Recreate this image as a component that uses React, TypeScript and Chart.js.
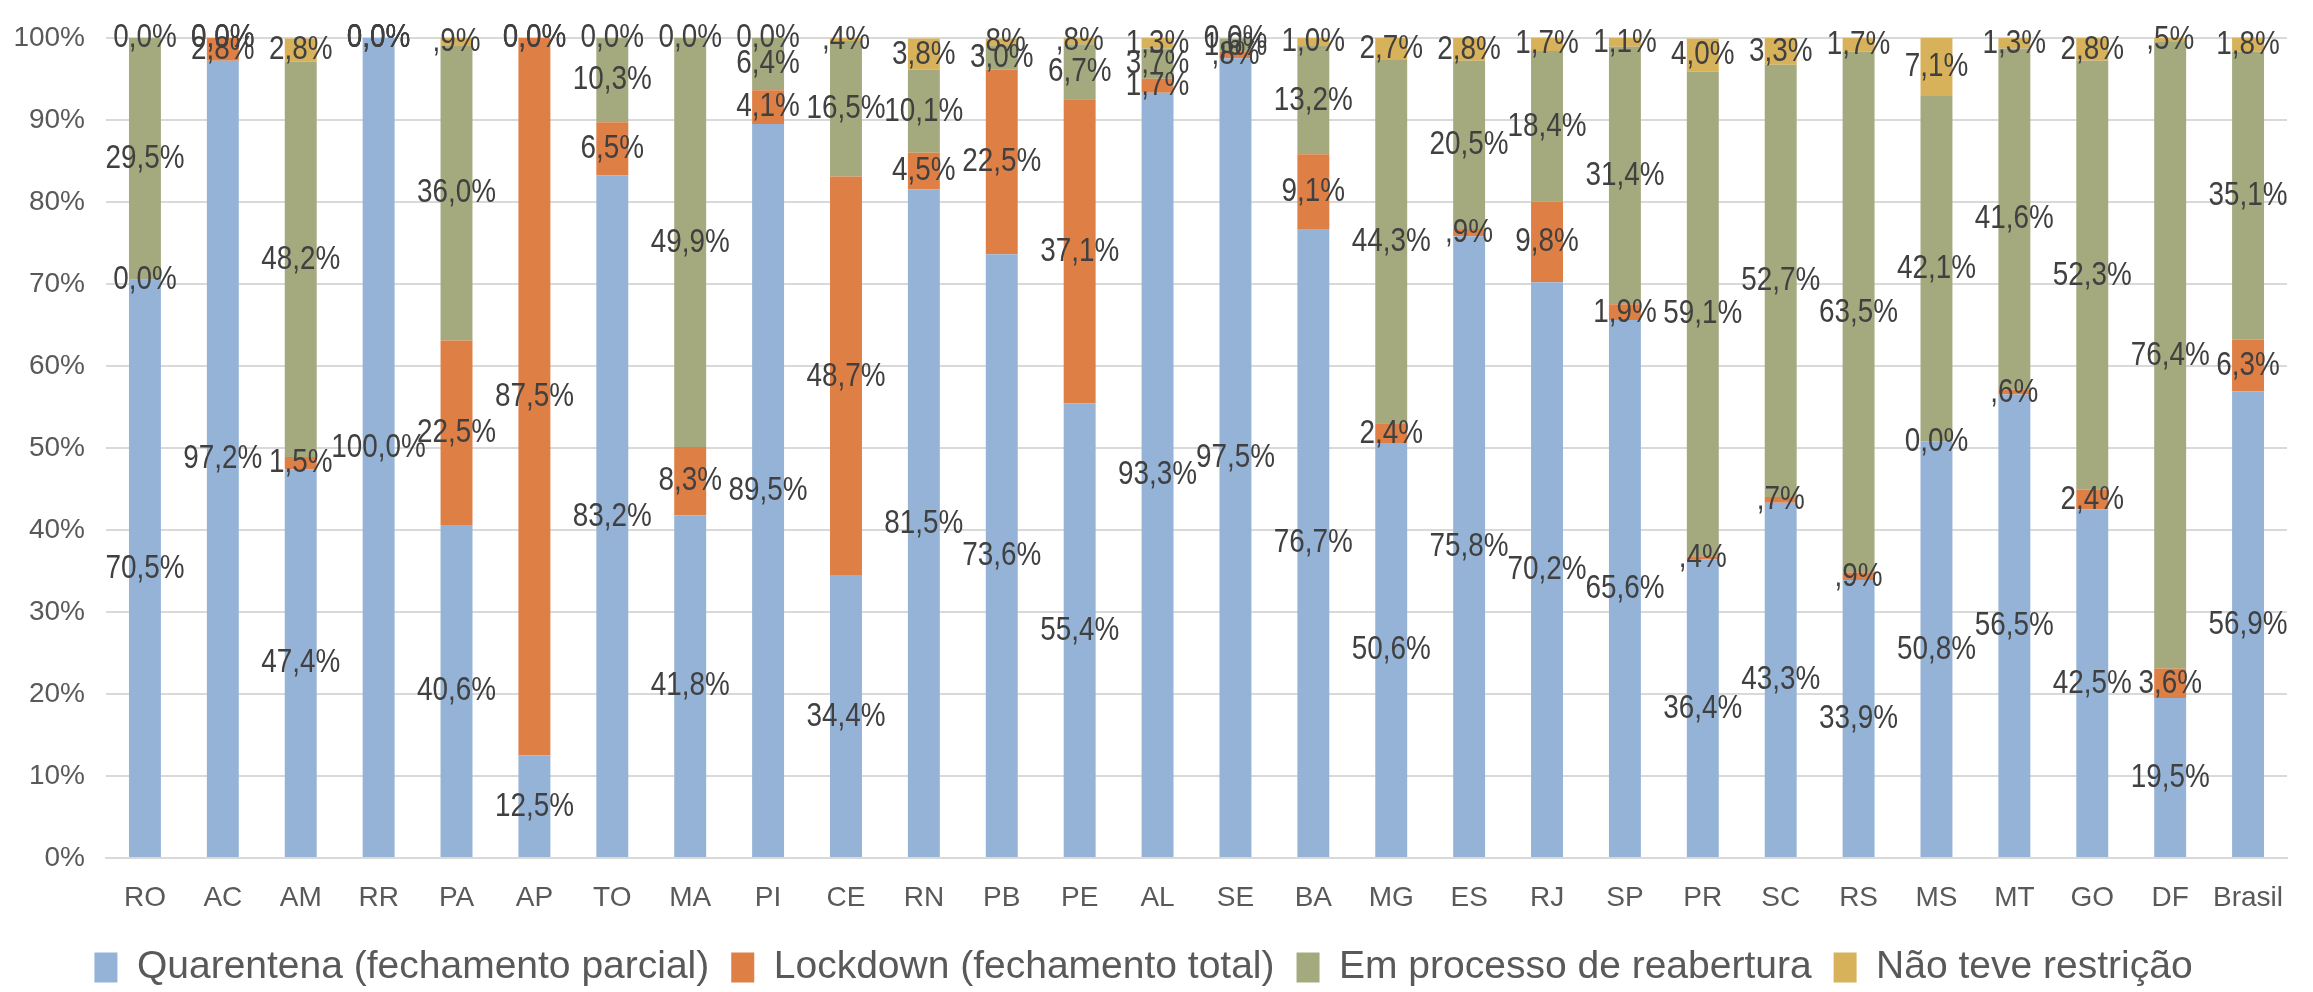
import React, { useEffect, useRef } from 'react';
import { Chart, registerables } from 'chart.js';

Chart.register(...registerables);

const categories = ['RO', 'AC', 'AM', 'RR', 'PA', 'AP', 'TO', 'MA', 'PI', 'CE', 'RN', 'PB', 'PE', 'AL', 'SE', 'BA', 'MG', 'ES', 'RJ', 'SP', 'PR', 'SC', 'RS', 'MS', 'MT', 'GO', 'DF', 'Brasil'];

const quarentena = [70.5, 97.2, 47.4, 100.0, 40.6, 12.5, 83.2, 41.8, 89.5, 34.4, 81.5, 73.6, 55.4, 93.3, 97.5, 76.7, 50.6, 75.8, 70.2, 65.6, 36.4, 43.3, 33.9, 50.8, 56.5, 42.5, 19.5, 56.9];
const lockdown = [0.0, 2.8, 1.5, 0.0, 22.5, 87.5, 6.5, 8.3, 4.1, 48.7, 4.5, 22.5, 37.1, 1.7, 0.8, 9.1, 2.4, 0.9, 9.8, 1.9, 0.4, 0.7, 0.9, 0.0, 0.6, 2.4, 3.6, 6.3];
const reabertura = [29.5, 0.0, 48.2, 0.0, 36.0, 0.0, 10.3, 49.9, 6.4, 16.5, 10.1, 3.0, 6.7, 3.7, 1.6, 13.2, 44.3, 20.5, 18.4, 31.4, 59.1, 52.7, 63.5, 42.1, 41.6, 52.3, 76.4, 35.1];
const semRestricao = [0.0, 0.0, 2.8, 0.0, 0.9, 0.0, 0.0, 0.0, 0.0, 0.4, 3.8, 0.8, 0.8, 1.3, 0.0, 1.0, 2.7, 2.8, 1.7, 1.1, 4.0, 3.3, 1.7, 7.1, 1.3, 2.8, 0.5, 1.8];

const seriesNames = ['Quarentena (fechamento parcial)', 'Lockdown (fechamento total)', 'Em processo de reabertura', 'Não teve restrição'];
const seriesColors = ['#95B3D6', '#DE7F45', '#A4AA7E', '#D8B15B'];
const seriesValues = [quarentena, lockdown, reabertura, semRestricao];

const FONT = '"Liberation Sans", Arial, sans-serif';

const fmt = (v: number): string => {
  if (v === 0) return '0,0%';
  if (v < 1) return ',' + Math.round(v * 10) + '%';
  return v.toFixed(1).replace('.', ',') + '%';
};

const segLabels = {
  id: 'segLabels',
  afterDatasetsDraw(chart: any) {
    const ctx = chart.ctx;
    ctx.save();
    ctx.font = `34px ${FONT}`;
    ctx.fillStyle = '#404040';
    ctx.textAlign = 'center';
    ctx.textBaseline = 'middle';
    chart.data.datasets.forEach((ds: any, di: number) => {
      const meta = chart.getDatasetMeta(di);
      meta.data.forEach((el: any, i: number) => {
        const p = el.getProps(['x', 'y', 'base'], true);
        ctx.save();
        ctx.translate(p.x, (p.y + p.base) / 2);
        ctx.scale(0.82, 1);
        ctx.fillText(fmt(ds.data[i]), 0, 0);
        ctx.restore();
      });
    });
    ctx.restore();
  },
};

export default function App() {
  const ref = useRef<HTMLCanvasElement | null>(null);
  useEffect(() => {
    document.body.style.margin = '0';
    document.body.style.overflow = 'hidden';
    const canvas = ref.current;
    if (!canvas) return;
    const chart = new Chart(canvas, {
      type: 'bar',
      data: {
        labels: categories,
        datasets: seriesValues.map((vals, i) => ({
          label: seriesNames[i],
          data: vals,
          backgroundColor: seriesColors[i],
          borderWidth: 0,
          categoryPercentage: 1,
          barPercentage: 0.41,
        })),
      },
      options: {
        responsive: false,
        animation: false,
        devicePixelRatio: 1,
        layout: { padding: { top: 19, right: 26, left: 0, bottom: -5 } },
        plugins: {
          tooltip: { enabled: false },
          legend: {
            position: 'bottom',
            labels: {
              font: { family: FONT, size: 39 },
              color: '#595959',
              boxWidth: 23,
              boxHeight: 30,
              padding: 22,
            },
          },
        },
        scales: {
          x: {
            stacked: true,
            grid: { display: false, drawTicks: false },
            border: { display: true, color: '#D9D9D9', width: 2 },
            ticks: { font: { family: FONT, size: 28 }, color: '#595959', padding: 23, maxRotation: 0, autoSkip: false },
            afterFit: (scale: any) => { scale.height = 68; },
          },
          y: {
            stacked: true,
            min: 0,
            max: 100,
            grid: { color: '#D9D9D9', lineWidth: 2, drawTicks: false },
            border: { display: false },
            ticks: {
              stepSize: 10,
              font: { family: FONT, size: 28 },
              color: '#595959',
              padding: 21,
              callback: (v: any) => v + '%',
            },
            afterFit: (scale: any) => { scale.width = 106; },
          },
        },
      },
      plugins: [segLabels],
    });
    return () => chart.destroy();
  }, []);
  return (
    <div style={{ width: 2313, height: 992 }}>
      <canvas ref={ref} width={2313} height={992} style={{ display: 'block' }} />
    </div>
  );
}
